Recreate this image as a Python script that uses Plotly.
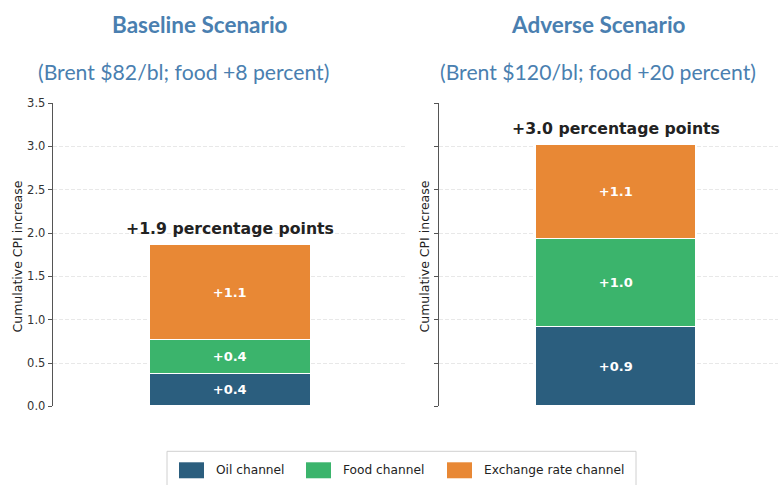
import plotly.graph_objects as go

# Channel contributions to cumulative CPI increase (percentage points)
channels = ["Oil channel", "Food channel", "Exchange rate channel"]
colors = ["#2b5e7e", "#3bb46c", "#e88835"]
baseline = [0.37, 0.39, 1.10]
adverse = [0.92, 1.01, 1.09]

scenario_titles = ["Baseline Scenario", "Adverse Scenario"]
scenario_notes = ["(Brent $82/bl; food +8 percent)", "(Brent $120/bl; food +20 percent)"]
y_ticks = [0.0, 0.5, 1.0, 1.5, 2.0, 2.5, 3.0, 3.5]

W, H = 778, 485
OFF, SCL = 5.3, 0.972


def fy(py):
    """Paper fraction for a vertical pixel position on the rendered page."""
    return 1 - (py - OFF) / SCL / H


fig = go.Figure()

panels = [
    dict(vals=baseline, xa="x", ya="y", dom=[52.7 / W, 407 / W], rng=[-0.55, 0.55]),
    dict(vals=adverse, xa="x2", ya="y2", dom=[439.3 / W, 1.0], rng=[-0.55, 0.503]),
]
ydom = [fy(405), fy(101.5)]

for p in panels:
    for name, col, v in zip(channels, colors, p["vals"]):
        fig.add_trace(go.Bar(
            x=[0], y=[v], name=name, width=0.5,
            marker=dict(color=col, line=dict(color="white", width=1)),
            text=["%+.1f" % v], textposition="inside",
            insidetextanchor="middle", constraintext="none",
            textfont=dict(family="DejaVu Sans", size=13, color="white", weight="bold"),
            xaxis=p["xa"], yaxis=p["ya"], showlegend=False,
        ))
    total = sum(p["vals"])
    fig.add_annotation(
        x=0, y=total, xref=p["xa"], yref=p["ya"], yanchor="bottom", yshift=5,
        text="<b>%+.1f percentage points</b>" % total, showarrow=False,
        font=dict(family="DejaVu Sans", size=15.7, color="#222222"),
    )

axis_common = dict(
    range=[0, 3.5], tickvals=y_ticks, ticktext=["%.1f" % t for t in y_ticks],
    showgrid=True, gridcolor="#e8e8e8", griddash="4px,2px", gridwidth=1,
    zeroline=False, showline=True, linecolor="#555555", linewidth=1,
    ticks="outside", ticklen=4, tickcolor="#555555",
    tickfont=dict(family="DejaVu Sans", size=11.5, color="#333333"),
)
xcommon = dict(showgrid=False, zeroline=False, showline=False, showticklabels=False, ticks="")

fig.update_layout(
    width=W, height=H, barmode="stack", bargap=0,
    margin=dict(l=0, r=0, t=0, b=0, pad=0),
    paper_bgcolor="white", plot_bgcolor="white", showlegend=False,
    xaxis=dict(domain=panels[0]["dom"], range=panels[0]["rng"], anchor="y", **xcommon),
    xaxis2=dict(domain=panels[1]["dom"], range=panels[1]["rng"], anchor="y2", **xcommon),
    yaxis=dict(domain=ydom, anchor="x", **axis_common),
    yaxis2=dict(domain=ydom, anchor="x2", showticklabels=False,
                **{k: v for k, v in axis_common.items() if k != "tickfont"}),
)

# Y-axis titles
for xpx in (17, 424):
    fig.add_annotation(
        x=xpx / W, y=fy(255), xref="paper", yref="paper",
        text="Cumulative CPI increase", textangle=-90, showarrow=False,
        xanchor="center", yanchor="middle",
        font=dict(family="DejaVu Sans", size=12.5, color="#222222"),
    )

# Panel titles and scenario notes
title_x = [199.5, 598]
note_x = [183.5, 598]
for t, n, tx, nx in zip(scenario_titles, scenario_notes, title_x, note_x):
    fig.add_annotation(
        x=tx / W, y=fy(23), xref="paper", yref="paper", showarrow=False,
        text="<b>%s</b>" % t, xanchor="center", yanchor="middle",
        font=dict(family="Lato", size=22.5, color="#4a7fb0"),
    )
    fig.add_annotation(
        x=nx / W, y=fy(70), xref="paper", yref="paper", showarrow=False,
        text=n, xanchor="center", yanchor="middle",
        font=dict(family="Lato", size=21.2, color="#4a7fb0"),
    )

# Legend box with swatches
fig.add_shape(type="rect", xref="paper", yref="paper",
              x0=167 / W, x1=636 / W, y0=-0.1, y1=fy(450),
              line=dict(color="#d0d0d0", width=1), fillcolor="white", layer="below")
sw_x = [179, 306, 447]
for name, col, sx in zip(channels, colors, sw_x):
    fig.add_shape(type="rect", xref="paper", yref="paper",
                  x0=sx / W, x1=(sx + 25) / W, y0=fy(477), y1=fy(461),
                  line=dict(color=col, width=0), fillcolor=col)
    fig.add_annotation(
        x=(sx + 35) / W, y=fy(469), xref="paper", yref="paper", showarrow=False,
        text=name, xanchor="left", yanchor="middle",
        font=dict(family="DejaVu Sans", size=12.2, color="#222222"),
    )

fig.write_html("out.html")
